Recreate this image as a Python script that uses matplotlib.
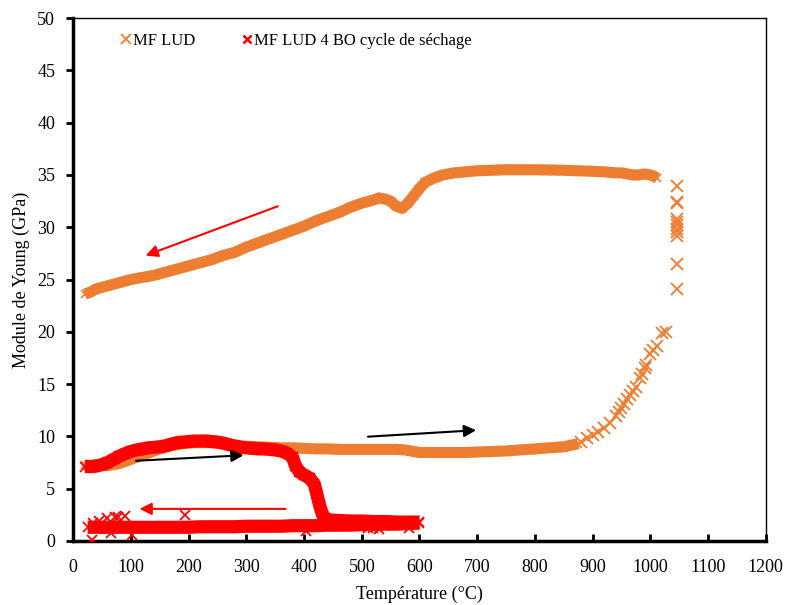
import numpy as np
import matplotlib
matplotlib.use('Agg')
import matplotlib.pyplot as plt
from matplotlib.lines import Line2D

plt.rcParams['font.family'] = ['Liberation Serif', 'DejaVu Serif']

orange = '#ED7D31'
red = '#FF0000'

# MF LUD - heating branch (dense part)
lud_heat_t = [20, 30, 40, 50, 60, 70, 80, 90, 100, 110, 120, 130, 140, 150, 160, 170, 180, 190, 200,
              210, 220, 230, 240, 250, 260, 270, 280, 290, 300, 320, 340, 360, 380, 400, 420, 440, 460,
              480, 500, 520, 540, 560, 575, 590, 600, 620, 640, 660, 680, 700, 750, 800, 850, 875]
lud_heat_e = [7.3, 7.2, 7.3, 7.2, 7.2, 7.3, 7.4, 7.6, 7.8, 8.0, 8.2, 8.4, 8.6, 8.8, 8.95, 9.1, 9.2, 9.3, 9.35,
              9.4, 9.4, 9.4, 9.4, 9.35, 9.3, 9.25, 9.2, 9.1, 9.05, 9.0, 8.95, 8.9, 8.9, 8.85, 8.8, 8.8, 8.75,
              8.75, 8.75, 8.75, 8.75, 8.75, 8.7, 8.55, 8.45, 8.45, 8.45, 8.45, 8.45, 8.5, 8.6, 8.8, 9.0, 9.3]
# MF LUD - heating branch (sparse part, above 880 C)
lud_rise_t = [880, 890, 900, 910, 920, 930, 940, 945, 950, 955, 960, 965, 970, 975, 982, 986, 990, 993,
              999, 1004, 1011, 1021, 1028]
lud_rise_e = [9.5, 9.8, 10.1, 10.4, 10.8, 11.3, 11.9, 12.3, 12.7, 13.1, 13.6, 14.0, 14.3, 14.7, 15.6, 16.0,
              16.5, 16.8, 17.9, 18.3, 18.6, 19.9, 20.0]
# MF LUD - points at 1045 C
lud_top_t = [1046, 1046, 1047, 1046, 1047, 1046, 1047, 1046, 1047, 1046, 1046]
lud_top_e = [33.9, 32.4, 32.3, 30.8, 30.5, 30.2, 29.8, 29.5, 29.2, 26.5, 24.1]
# MF LUD - cooling branch
lud_cool_t = [1012, 1005, 1000, 990, 980, 970, 960, 950, 940, 920, 900, 850, 800, 750, 700, 680, 660, 640,
              625, 610, 600, 590, 580, 570, 560, 550, 540, 530, 520, 500, 480, 460, 440, 420, 400, 380, 360,
              340, 320, 300, 280, 260, 240, 220, 200, 180, 160, 140, 120, 100, 80, 60, 40, 30, 20]
lud_cool_e = [34.7, 34.9, 35.0, 35.1, 35.0, 35.0, 35.1, 35.2, 35.2, 35.3, 35.35, 35.45, 35.5, 35.5, 35.4,
              35.3, 35.2, 35.0, 34.7, 34.3, 33.7, 33.0, 32.3, 31.8, 32.0, 32.5, 32.7, 32.8, 32.6, 32.3, 31.9,
              31.4, 31.0, 30.6, 30.1, 29.7, 29.3, 28.9, 28.5, 28.1, 27.6, 27.3, 26.9, 26.6, 26.3, 26.0, 25.7,
              25.4, 25.2, 25.0, 24.7, 24.4, 24.1, 23.8, 23.6]

# MF LUD 4 BO - heating branch
bo_heat_t = [20, 30, 40, 50, 60, 70, 80, 90, 100, 110, 120, 130, 140, 150, 160, 170, 180, 190, 200, 210,
             220, 230, 240, 250, 260, 270, 280, 290, 300, 310, 320, 330, 340, 350, 360, 370, 380, 385, 392,
             400, 410, 418, 422, 427, 432, 438, 445, 460, 480, 500, 520, 540, 560, 580, 600]
bo_heat_e = [7.1, 7.1, 7.15, 7.3, 7.5, 7.8, 8.1, 8.35, 8.55, 8.7, 8.8, 8.9, 8.95, 9.0, 9.1, 9.25, 9.4, 9.45,
             9.5, 9.55, 9.55, 9.55, 9.5, 9.45, 9.35, 9.2, 9.05, 8.95, 8.9, 8.85, 8.8, 8.8, 8.75, 8.7, 8.6,
             8.4, 8.0, 7.2, 6.6, 6.3, 6.0, 5.4, 4.5, 3.4, 2.5, 2.1, 2.0, 1.95, 1.9, 1.9, 1.85, 1.85, 1.8,
             1.8, 1.8]
# MF LUD 4 BO - cooling branch
bo_cool_t = [600, 580, 560, 540, 520, 500, 480, 460, 440, 420, 400, 380, 360, 340, 320, 300, 280, 260, 240,
             220, 200, 180, 160, 140, 120, 100, 80, 60, 40, 25]
bo_cool_e = [1.7, 1.65, 1.6, 1.6, 1.55, 1.55, 1.5, 1.5, 1.5, 1.45, 1.45, 1.45, 1.4, 1.4, 1.4, 1.4, 1.35,
             1.35, 1.35, 1.35, 1.3, 1.3, 1.3, 1.3, 1.3, 1.3, 1.3, 1.3, 1.3, 1.3]
# MF LUD 4 BO - scattered points
bo_out_t = [33, 35, 45, 58, 65, 72, 78, 90, 102, 193, 404, 510, 520, 530, 582]
bo_out_e = [0.1, 1.7, 1.9, 2.2, 0.8, 2.3, 2.3, 2.4, 0.6, 2.5, 0.9, 1.2, 1.2, 1.1, 1.2]

fig = plt.figure(figsize=(7.87, 6.05), dpi=100)
ax = fig.add_axes([0.093, 0.106, 0.880, 0.864])

# dense branches: thick band + x markers
for t, e in [(lud_heat_t, lud_heat_e), (lud_cool_t, lud_cool_e)]:
    ax.plot(t, e, color=orange, lw=8, solid_capstyle='butt', zorder=2)
    ax.plot(t, e, 'x', color=orange, ms=6, mew=1.2, zorder=2)
ax.plot(lud_rise_t, lud_rise_e, 'x', color=orange, ms=8, mew=1.3, zorder=2)
ax.plot(lud_top_t, lud_top_e, 'x', color=orange, ms=8, mew=1.3, zorder=2)

for t, e in [(bo_heat_t, bo_heat_e), (bo_cool_t, bo_cool_e)]:
    ax.plot(t, e, color=red, lw=9.5, solid_capstyle='butt', zorder=3)
    ax.plot(t, e, 'x', color=red, ms=6.5, mew=1.2, zorder=3)
ax.plot(bo_out_t, bo_out_e, 'x', color=red, ms=7, mew=1.3, zorder=3)

# arrows
ax.annotate('', xy=(121, 27.2), xytext=(359, 32.1),
            arrowprops=dict(arrowstyle='-|>', color=red, lw=1.5, mutation_scale=18))
ax.annotate('', xy=(300, 8.2), xytext=(104, 7.65),
            arrowprops=dict(arrowstyle='-|>', color='black', lw=1.5, mutation_scale=18))
ax.annotate('', xy=(703, 10.6), xytext=(506, 9.95),
            arrowprops=dict(arrowstyle='-|>', color='black', lw=1.5, mutation_scale=18))
ax.annotate('', xy=(110, 3.06), xytext=(373, 3.06),
            arrowprops=dict(arrowstyle='-|>', color=red, lw=1.5, mutation_scale=18))

ax.set_xlim(0, 1200)
ax.set_ylim(0, 50)
ax.set_xticks(np.arange(0, 1201, 100))
ax.set_yticks(np.arange(0, 51, 5))
ax.tick_params(axis='x', direction='in', length=5, width=2, labelsize=13, pad=13)
ax.tick_params(axis='y', direction='out', length=5, width=2, labelsize=13, pad=8)
ax.spines['left'].set_linewidth(2.5)
ax.spines['bottom'].set_linewidth(2.5)
ax.spines['top'].set_linewidth(1)
ax.spines['right'].set_linewidth(1)
ax.set_xlabel('Température (°C)', fontsize=13, labelpad=7)
ax.set_ylabel('Module de Young (GPa)', fontsize=13, labelpad=5)

handles = [Line2D([], [], ls='none', marker='x', color=orange, ms=7, mew=1.3),
           Line2D([], [], ls='none', marker='x', color=red, ms=6, mew=1.8)]
ax.legend(handles, ['MF LUD', 'MF LUD 4 BO cycle de séchage'], loc='upper left',
          bbox_to_anchor=(0.048, 1.0), ncol=2, frameon=False, fontsize=12,
          handlelength=0.6, handletextpad=0.1, columnspacing=2.8)

fig.savefig('out.png', dpi=100)
